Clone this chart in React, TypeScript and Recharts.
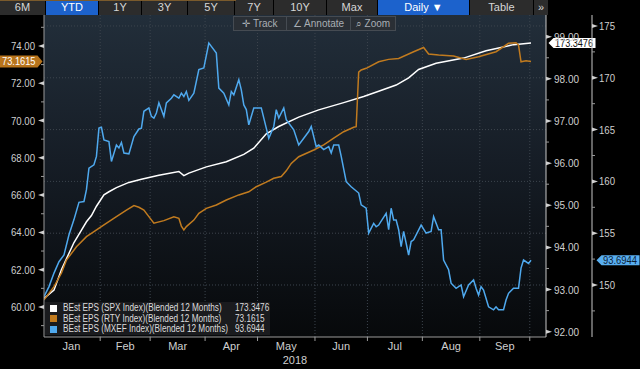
import React from 'react';
import { LineChart, Line, XAxis, YAxis, ReferenceLine, Legend } from 'recharts';

const FONT = "'Liberation Sans', Arial, sans-serif";

// weekday index of month boundaries (0 = Jan 1 2018)
const monthBounds = [-0.5, 22.5, 42.5, 64.5, 85.5, 108.5, 129.5, 151.5, 174.5, 194.5];
const months = ['Jan', 'Feb', 'Mar', 'Apr', 'May', 'Jun', 'Jul', 'Aug', 'Sep'];

const rtyTicks = [59, 60, 61, 62, 63, 64, 65, 66, 67, 68, 69, 70, 71, 72, 73, 74, 75];
const spxTicks = [147.5, 150, 152.5, 155, 157.5, 160, 162.5, 165, 167.5, 170, 172.5, 175];
const spxGrid = [150, 155, 160, 165, 170, 175];
const mxefTicks = [92, 92.5, 93, 93.5, 94, 94.5, 95, 95.5, 96, 96.5, 97, 97.5, 98, 98.5, 99];

// [weekday, value]
const spxEps = [
  [0, 148.7], [4, 149.5], [7, 151.5], [12, 154.1], [15, 155.3], [17, 156.1], [19, 156.7],
  [21, 157.6], [24, 158.7], [26, 159.0], [29, 159.4], [34, 159.9], [39, 160.2], [46, 160.6],
  [54, 160.95], [56, 160.55], [58, 160.8], [65, 161.4], [73, 161.9], [80, 162.6], [84, 163.2],
  [89, 164.6], [94, 165.3], [102, 166.2], [110, 166.9], [120, 167.6], [128, 168.2], [134, 168.7],
  [141, 169.3], [146, 170.0], [150, 170.8], [157, 171.4], [168, 171.9], [177, 172.6], [188, 173.2],
  [195, 173.3476],
];

const rtyEps = [
  [0, 60.38], [4, 61.09], [7, 61.82], [9, 62.52], [13, 63.23], [17, 63.77], [20, 64.04],
  [24, 64.4], [29, 64.84], [33, 65.2], [36, 65.44], [38, 65.35], [40, 65.2], [41, 65.02],
  [44, 64.49], [48, 64.63], [52, 64.84], [54, 64.76], [55, 64.34], [56, 64.13], [57, 64.31],
  [60, 64.66], [62, 65.02], [65, 65.29], [69, 65.47], [73, 65.74], [78, 66.01], [82, 66.18],
  [85, 66.45], [89, 66.7], [92, 66.9], [95, 67.0], [97, 67.3], [99, 67.7], [102, 68.06],
  [108, 68.42], [112, 68.69], [116, 69.05], [120, 69.4], [124, 69.64], [125, 69.67], [126, 72.6],
  [127, 72.71], [129, 72.8], [134, 73.15], [138, 73.28], [142, 73.33], [148, 73.69], [152, 73.92],
  [154, 73.57], [158, 73.51], [164, 73.46], [169, 73.28], [174, 73.42], [181, 73.69], [186, 74.14],
  [189, 74.17], [190, 74.05], [191, 73.15], [193, 73.21], [195, 73.1615],
];

const mxefEps = [
  [0, 92.83], [2, 93.07], [4, 93.39], [6, 93.66], [8, 93.82], [10, 94.3], [12, 94.66], [14, 95.07],
  [16, 95.09], [17, 95.37], [18, 95.88], [20, 95.96], [21, 96.16], [22, 96.83], [23, 96.85],
  [24, 96.55], [26, 96.51], [27, 96.04], [29, 96.43], [30, 96.36], [31, 96.49], [32, 96.24],
  [34, 96.22], [36, 96.63], [38, 96.81], [39, 96.83], [40, 97.23], [42, 97.31], [43, 97.11],
  [44, 97.07], [45, 97.19], [46, 97.43], [48, 97.11], [49, 97.43], [51, 97.54], [52, 97.62],
  [54, 97.54], [55, 97.66], [56, 97.58], [57, 97.7], [58, 97.49], [60, 97.66], [62, 98.22],
  [64, 98.26], [66, 98.85], [67, 98.77], [69, 98.61], [70, 97.78], [72, 97.66], [74, 97.38],
  [75, 97.7], [76, 97.62], [78, 97.98], [79, 97.74], [80, 97.38], [81, 97.27], [82, 96.91],
  [84, 97.31], [87, 97.31], [89, 96.83], [90, 96.59], [92, 96.87], [93, 97.27], [94, 97.07],
  [96, 97.31], [97, 97.03], [100, 96.79], [102, 96.43], [104, 96.59], [106, 96.75], [107, 96.87],
  [108, 96.63], [109, 96.39], [110, 96.43], [112, 96.32], [114, 96.39], [115, 96.24], [116, 96.43],
  [118, 96.43], [119, 96.16], [121, 95.56], [123, 95.44], [126, 95.29], [127, 95.01], [129, 94.93],
  [130, 94.34], [132, 94.57], [133, 94.49], [134, 94.53], [137, 94.81], [138, 94.42], [139, 94.93],
  [140, 94.65], [141, 94.65], [142, 94.42], [143, 94.02], [144, 94.38], [146, 93.82], [147, 94.14],
  [148, 94.18], [151, 94.53], [153, 94.34], [155, 94.38], [156, 94.73], [158, 94.42], [159, 94.42],
  [160, 93.7], [162, 93.47], [163, 93.15], [165, 93.03], [167, 93.11], [168, 92.83], [170, 93.11],
  [172, 93.23], [173, 93.03], [174, 92.87], [175, 93.07], [176, 92.99], [178, 92.59], [180, 92.52],
  [181, 92.59], [182, 92.52], [184, 92.52], [185, 92.75], [186, 92.91], [188, 93.03], [190, 93.03],
  [191, 93.51], [192, 93.7], [194, 93.62], [195, 93.6944],
];

const series = [
  { id: 'spx', name: 'BEst EPS (SPX Index)(Blended 12 Months)', color: '#ffffff', points: spxEps },
  { id: 'rty', name: 'BEst EPS (RTY Index)(Blended 12 Months)', color: '#c17b1f', points: rtyEps },
  { id: 'mxef', name: 'BEst EPS (MXEF Index)(Blended 12 Months)', color: '#4fa9ee', points: mxefEps },
];

const toRows = (pts: number[][]) => pts.map(([d, v]) => ({ d, v }));
const lastOf = (pts: number[][]) => pts[pts.length - 1][1];

const toolbar = [
  { label: '6M', w: 46 }, { label: 'YTD', w: 53, on: true }, { label: '1Y', w: 43 },
  { label: '3Y', w: 46 }, { label: '5Y', w: 47 }, { label: '7Y', w: 39 }, { label: '10Y', w: 53 },
  { label: 'Max', w: 51 }, { label: 'Daily \u25BC', w: 92, on: true }, { label: 'Table', w: 64 },
  { label: '\u00BB', w: 15 },
];

const PLOT_W = 502;
const X_DOMAIN = [0, 201];
const PX_PER_DAY = PLOT_W / (X_DOMAIN[1] - X_DOMAIN[0]);
const AXIS = '#9a9a9a';
const LABEL = '#cfcfcf';

const MonthTick = (props: any) => {
  const { x, y, payload } = props;
  const i = monthBounds.indexOf(payload.value);
  const mid = x - ((payload.value - monthBounds[i - 1]) / 2) * PX_PER_DAY;
  return (
    <g>
      <line x1={x} x2={x} y1={y} y2={y + 4} stroke={AXIS} />
      <text x={mid} y={y + 13} textAnchor="middle" fill={LABEL} fontSize={11} fontFamily={FONT}>
        {months[i - 1]}
      </text>
    </g>
  );
};

const LeftTick = (props: any) => {
  const { x, y, payload } = props;
  const v = payload.value;
  const major = v % 2 === 0;
  return (
    <g>
      {major ? (
        <polygon points={`${x - 6},${y} ${x},${y - 2} ${x},${y + 2}`} fill="#d0d0d0" />
      ) : (
        <line x1={x - 3} x2={x} y1={y} y2={y} stroke={AXIS} />
      )}
      {major && (
        <text x={x - 9} y={y} dy={4} textAnchor="end" fill={LABEL} fontSize={11} fontFamily={FONT}
          textLength={24} lengthAdjust="spacingAndGlyphs">
          {v.toFixed(2)}
        </text>
      )}
    </g>
  );
};

const makeRightTick = (step: number, gap: number, digits: number, len: number) => (props: any) => {
  const { x, y, payload } = props;
  const v = payload.value;
  const major = Math.abs(v / step - Math.round(v / step)) < 1e-6;
  return (
    <g>
      {major ? (
        <polygon points={`${x + 6},${y} ${x},${y - 2} ${x},${y + 2}`} fill="#d0d0d0" />
      ) : (
        <line x1={x} x2={x + 3} y1={y} y2={y} stroke={AXIS} />
      )}
      {major && (
        <text x={x + gap} y={y} dy={4} textAnchor="start" fill={LABEL} fontSize={11} fontFamily={FONT}
          textLength={len} lengthAdjust="spacingAndGlyphs">
          {v.toFixed(digits)}
        </text>
      )}
    </g>
  );
};

const SpxTick = makeRightTick(5, 7, 0, 16);
const MxefTick = makeRightTick(1, 8, 2, 25);

const tag = (side: 'left' | 'right1' | 'right2', text: string, fill: string, color: string) => (props: any) => {
  const vb = props.viewBox;
  if (!vb) return null;
  const y = vb.y;
  const h = side === 'left' ? 6 : 5;
  let pts = '';
  let cx = 0;
  let inner = 0;
  if (side === 'left') {
    const R = vb.x - 1.5;
    const L = vb.x - 44;
    pts = `${L},${y - h} ${R - 5},${y - h} ${R},${y} ${R - 5},${y + h} ${L},${y + h}`;
    cx = (L + R - 5) / 2;
    inner = R - 5 - L;
  } else {
    const T = vb.x + vb.width + (side === 'right1' ? 2.5 : 50.5);
    const W = side === 'right1' ? 47 : 43;
    pts = `${T},${y} ${T + 5},${y - h} ${T + W},${y - h} ${T + W},${y + h} ${T + 5},${y + h}`;
    cx = T + 4.5 + (W - 5) / 2;
    inner = W - 5;
  }
  return (
    <g>
      <polygon points={pts} fill={fill} />
      <text x={cx} y={y} dy={3.5} textAnchor="middle" fill={color} fontSize={10} fontFamily={FONT}
        textLength={inner - 4} lengthAdjust="spacingAndGlyphs">
        {text}
      </text>
    </g>
  );
};

const LegendBox = (props: any) => {
  const payload = [...(props.payload || [])].sort(
    (a: any, b: any) => series.findIndex((s) => s.name === a.value) - series.findIndex((s) => s.name === b.value)
  );
  const txt = {
    position: 'absolute' as const,
    top: 0,
    display: 'block',
    whiteSpace: 'nowrap' as const,
    transform: 'scaleX(0.82)',
    transformOrigin: 'left center',
  };
  return (
    <div
      style={{
        background: '#1a1b1e',
        width: 225,
        height: 33,
        padding: '1px 0 0 0',
        boxSizing: 'border-box',
        fontFamily: FONT,
        fontSize: 10,
        color: '#dcdcdc',
      }}
    >
      {payload.map((p: any) => {
        const s = series.find((x) => x.name === p.value);
        return (
          <div key={p.value} style={{ position: 'relative', height: 10.5, lineHeight: '10.5px' }}>
            <span
              style={{ position: 'absolute', left: 5, top: 1.75, width: 7, height: 7, background: p.color }}
            />
            <span style={{ ...txt, left: 17.5 }}>{p.value}</span>
            <span style={{ ...txt, left: 190 }}>{s ? lastOf(s.points).toFixed(4) : ''}</span>
          </div>
        );
      })}
    </div>
  );
};

export default function App() {
  return (
    <div
      style={{
        position: 'absolute',
        left: 0,
        top: 0,
        width: 640,
        height: 369,
        background: '#000',
        overflow: 'hidden',
        fontFamily: FONT,
      }}
    >
      <div
        style={{
          position: 'absolute',
          left: 44,
          top: 15,
          width: PLOT_W,
          height: 322,
          background: 'linear-gradient(180deg, #222e3a 0%, #161d26 45%, #07090b 100%)',
        }}
      />
      <div style={{ position: 'absolute', left: 0, top: 0 }}>
        <LineChart width={640} height={369} margin={{ top: 15, right: 0, bottom: 0, left: 0 }}>
          <XAxis
            type="number"
            dataKey="d"
            domain={X_DOMAIN}
            ticks={monthBounds.slice(1)}
            interval={0}
            allowDataOverflow
            height={32}
            tickSize={0}
            tickMargin={0}
            tickLine={false}
            axisLine={{ stroke: AXIS }}
            tick={(p: any) => <MonthTick {...p} />}
            label={{ value: '2018', position: 'insideBottom', offset: 5, fill: LABEL, fontSize: 11, fontFamily: FONT }}
          />
          <YAxis
            yAxisId="rty"
            orientation="left"
            type="number"
            width={44}
            domain={[58.39, 75.66]}
            ticks={rtyTicks}
            interval={0}
            allowDataOverflow
            tickSize={0}
            tickMargin={0}
            tickLine={false}
            axisLine={{ stroke: AXIS }}
            tick={(p: any) => <LeftTick {...p} />}
          />
          <YAxis
            yAxisId="spx"
            orientation="right"
            type="number"
            width={48}
            domain={[144.98, 176.06]}
            ticks={spxTicks}
            interval={0}
            allowDataOverflow
            tickSize={0}
            tickMargin={0}
            tickLine={false}
            axisLine={{ stroke: '#c8c8c8' }}
            tick={(p: any) => <SpxTick {...p} />}
          />
          <YAxis
            yAxisId="mxef"
            orientation="right"
            type="number"
            width={46}
            domain={[91.874, 99.515]}
            ticks={mxefTicks}
            interval={0}
            allowDataOverflow
            tickSize={0}
            tickMargin={0}
            tickLine={false}
            axisLine={{ stroke: '#c8c8c8' }}
            tick={(p: any) => <MxefTick {...p} />}
          />
          {spxGrid.map((v) => (
            <ReferenceLine key={`h${v}`} yAxisId="spx" y={v} stroke="#3d454e" strokeDasharray="1 2" />
          ))}
          {monthBounds.slice(1).map((b) => (
            <ReferenceLine key={`v${b}`} yAxisId="spx" x={b} stroke="#3d454e" strokeDasharray="1 2" />
          ))}
          {series.map((s) => (
            <Line
              key={s.id}
              yAxisId={s.id}
              data={toRows(s.points)}
              dataKey="v"
              name={s.name}
              type="linear"
              stroke={s.color}
              strokeWidth={1.5}
              dot={false}
              isAnimationActive={false}
            />
          ))}
          <ReferenceLine
            yAxisId="rty"
            y={lastOf(rtyEps)}
            stroke="none"
            label={tag('left', lastOf(rtyEps).toFixed(4), '#b8741c', '#ffffff')}
          />
          <ReferenceLine
            yAxisId="spx"
            y={lastOf(spxEps)}
            stroke="none"
            label={tag('right1', lastOf(spxEps).toFixed(4), '#ffffff', '#111111')}
          />
          <ReferenceLine
            yAxisId="mxef"
            y={lastOf(mxefEps)}
            stroke="none"
            label={tag('right2', lastOf(mxefEps).toFixed(4), '#58aef0', '#0d2236')}
          />
          <Legend
            layout="vertical"
            align="center"
            verticalAlign="middle"
            wrapperStyle={{ left: 45, top: 302, width: 225 }}
            content={(p: any) => <LegendBox {...p} />}
          />
        </LineChart>
      </div>
      <div style={{ position: 'absolute', left: 0, top: 0, height: 15, display: 'flex' }}>
        {toolbar.map((b) => (
          <div
            key={b.label}
            style={{
              width: b.w,
              height: 15,
              boxSizing: 'border-box',
              borderRight: '1px solid #000',
              background: b.on ? '#1c62cc' : '#2c2c2c',
              color: b.on ? '#ffffff' : '#d6d6d6',
              fontSize: 11,
              lineHeight: '15px',
              textAlign: 'center',
            }}
          >
            {b.label}
          </div>
        ))}
      </div>
      <div style={{ position: 'absolute', left: 0, top: 0, width: 236, height: 1, background: '#7a5a2c' }} />
      <div
        style={{
          position: 'absolute',
          left: 233,
          top: 16,
          width: 163,
          height: 15,
          boxSizing: 'border-box',
          border: '1px solid #454b52',
          background: '#2a2f35',
          display: 'flex',
          color: '#a9aeb4',
          fontSize: 10,
          lineHeight: '13px',
        }}
      >
        <div style={{ width: 52, textAlign: 'center' }}>{'\u271B'} Track</div>
        <div style={{ width: 63, textAlign: 'center', borderLeft: '1px solid #454b52' }}>{'\u2220'} Annotate</div>
        <div style={{ flex: 1, textAlign: 'center', borderLeft: '1px solid #454b52' }}>{'\u2315'} Zoom</div>
      </div>
    </div>
  );
}
